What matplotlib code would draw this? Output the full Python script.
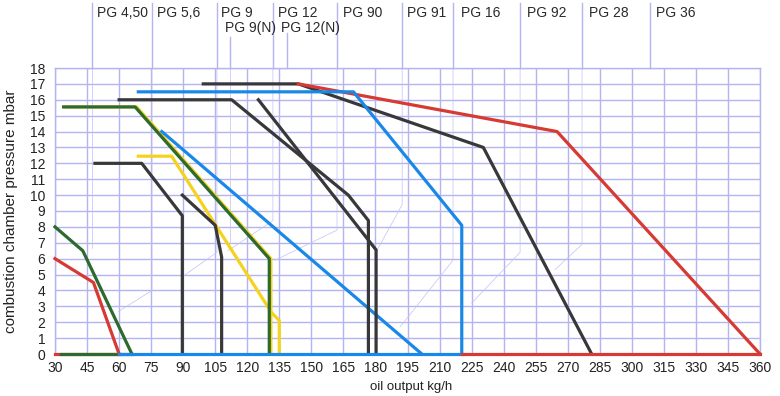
import matplotlib
matplotlib.use('Agg')
import matplotlib.pyplot as plt
import matplotlib.transforms as mtransforms

plt.rcParams['font.family'] = ['Liberation Sans', 'DejaVu Sans']

# burner curves: oil output kg/h vs combustion chamber pressure mbar
red_a_x = [30, 48, 60]
red_a_y = [6, 4.5, 0]
green_a_x = [30, 43, 66]
green_a_y = [8, 6.5, 0]
gray_a_x = [48.7, 70.6, 89.6, 89.6]
gray_a_y = [12, 12, 8.7, 0]
green_b_x = [34, 67.5, 130.3, 130.3]
green_b_y = [15.55, 15.55, 6, 0]
yellow_x = [69, 84.6, 131.4, 135, 135]
yellow_y = [12.45, 12.45, 2.6, 2.1, 0]
gray_b_x = [89.6, 105, 108, 108]
gray_b_y = [10, 8.1, 6.1, 0]
blue_a_x = [80, 201.7]
blue_a_y = [14, 0]
gray_c_x = [60, 112.7, 167.3, 176.7, 176.7]
gray_c_y = [16, 16, 10, 8.4, 0]
gray_d_x = [125.2, 180.3, 180.3]
gray_d_y = [16, 6.55, 0]
gray_e_x = [99.4, 143.9, 230.5, 281.2]
gray_e_y = [17, 17, 13, 0]
blue_b_x = [69, 169.7, 220.4, 220.4]
blue_b_y = [16.5, 16.5, 8.1, 0]
red_b_x = [143.9, 265, 360]
red_b_y = [17, 14, 0]

# base lines along 0 mbar
base_red_a = [30, 60]
base_green = [33, 66]
base_blue = [60, 220.4]
base_red_b = [220.4, 360]

# burner type labels on top
pg_names = ['PG 4,50', 'PG 5,6', 'PG 9', 'PG 9(N)', 'PG 12', 'PG 12(N)', 'PG 90',
            'PG 91', 'PG 16', 'PG 92', 'PG 28', 'PG 36']
pg_line_x = [47.3, 75.4, 105.8, 111.9, 132, 138.6, 162, 192.5, 216.3, 247.7, 276.7, 308.6]
pg_line_top = [22.1, 22.1, 22.1, 19.95, 22.1, 20.2, 22.1, 22.1, 22.1, 22.1, 22.1, 22.1]
pg_text_x = [49.7, 77.7, 107.7, 109.6, 134.4, 135.8, 164.8, 194.8, 220.0, 250.9, 280.0, 311.3]
pg_text_y = [21.46, 21.46, 21.46, 20.5, 21.46, 20.5, 21.46, 21.46, 21.46, 21.46, 21.46, 21.46]

# faint guide lines inside the chart
guides = [
    ([47.3, 47.3], [18, 6.7]),
    ([75.4, 75.4, 59.6], [18, 4.0, 2.66]),
    ([105.8, 105.8, 90], [18, 6.4, 4.9]),
    ([111.9, 111.9], [18, 7]),
    ([132, 132, 111], [18, 8.4, 6.5]),
    ([162, 162, 133], [18, 7.8, 5.9]),
    ([192.5, 192.5, 180.6], [18, 9.4, 6.5]),
    ([216.3, 216.3, 191.5], [18, 5.9, 1.7]),
    ([247.7, 247.7, 225], [18, 6.4, 3.2]),
    ([276.7, 276.7, 264], [18, 6.9, 5.3]),
]

RED = '#d63a33'
GREEN = '#2d6a2d'
GRAY = '#383838'
BLUE = '#1a88e6'
YELLOW = '#f5d21e'
LAV = '#b4b4f0'
LW = 2.3

fig = plt.figure(figsize=(7.8, 3.96), dpi=100)
ax = fig.add_axes([55/780, 42/396, 705/780, 286/396])

ax.set_xlim(30, 360)
ax.set_ylim(0, 18)
ax.set_xticks(range(30, 361, 15))
ax.set_yticks(range(0, 19))
ax.grid(True, color=LAV, lw=1.0)
ax.set_axisbelow(True)
ax.tick_params(length=0, labelsize=10, colors='#222222')
ax.tick_params(axis='y', pad=7)
ax.tick_params(axis='x', pad=5)
for s in ax.spines.values():
    s.set_color(LAV)
    s.set_linewidth(1.0)

for gx, gy in guides:
    ax.plot(gx, gy, color='#c4c0f2', lw=0.5, zorder=1)

for x, top in zip(pg_line_x, pg_line_top):
    ax.plot([x, x], [18, top], color=LAV, lw=1.0, clip_on=False)
for name, tx, ty in zip(pg_names, pg_text_x, pg_text_y):
    ax.text(tx, ty, name, fontsize=10, color='#2a2a2a', va='center', ha='left')

shift = mtransforms.offset_copy(ax.transData, fig=fig, x=1.6, y=0, units='dots')

ax.plot(base_red_a, [0, 0], color=RED, lw=LW, clip_on=False, zorder=3)
ax.plot(base_green, [0, 0], color=GREEN, lw=LW, clip_on=False, zorder=3)
ax.plot(red_a_x, red_a_y, color=RED, lw=LW, clip_on=False, zorder=3)
ax.plot(green_a_x, green_a_y, color=GREEN, lw=LW, clip_on=False, zorder=3)
ax.plot(gray_a_x, gray_a_y, color=GRAY, lw=LW, zorder=3)
ax.plot(yellow_x, yellow_y, color=YELLOW, lw=LW, zorder=3)
ax.plot(green_b_x, green_b_y, color=YELLOW, lw=LW, transform=shift, zorder=3)
ax.plot(green_b_x, green_b_y, color=GREEN, lw=LW, zorder=4)
ax.plot(gray_b_x, gray_b_y, color=GRAY, lw=LW, zorder=4)
ax.plot(blue_a_x, blue_a_y, color=BLUE, lw=LW, zorder=4)
ax.plot(gray_c_x, gray_c_y, color=GRAY, lw=LW, zorder=4)
ax.plot(gray_d_x, gray_d_y, color=GRAY, lw=LW, zorder=4)
ax.plot(gray_e_x, gray_e_y, color=GRAY, lw=LW, zorder=4)
ax.plot(red_b_x, red_b_y, color=RED, lw=LW, clip_on=False, zorder=4)
ax.plot(blue_b_x, blue_b_y, color=BLUE, lw=LW, zorder=4)
ax.plot(base_blue, [0, 0], color=BLUE, lw=LW, clip_on=False, zorder=5)
ax.plot(base_red_b, [0, 0], color=RED, lw=LW, clip_on=False, zorder=5)

ax.set_xlabel('oil output kg/h', fontsize=9.5, color='#222222')
ax.set_ylabel('combustion chamber pressure mbar', fontsize=11, color='#222222')
ax.yaxis.set_label_coords(-0.053, 0.5)
ax.xaxis.set_label_coords(0.505, -0.095)

fig.savefig('out.png', dpi=100)
